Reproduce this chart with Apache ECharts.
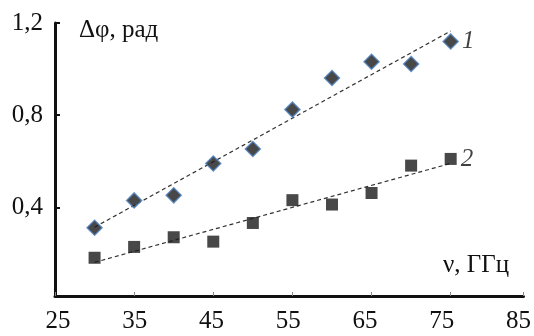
<!DOCTYPE html>
<html>
<head>
<meta charset="utf-8">
<script src="https://cdn.jsdelivr.net/npm/echarts@6/dist/echarts.min.js"></script>
<style>html,body{margin:0;padding:0;background:#fff}#c{width:534px;height:336px}</style>
</head>
<body>
<div id="c"></div>
<script>
const xValues = [30, 35, 40, 45, 50, 55, 60, 65, 70, 75];
const series1 = [0.311, 0.430, 0.452, 0.590, 0.653, 0.824, 0.961, 1.032, 1.022, 1.120];
const series2 = [0.181, 0.228, 0.270, 0.251, 0.332, 0.431, 0.412, 0.462, 0.581, 0.610];
const xTickLabels = [25, 35, 45, 55, 65, 75, 85];
const yTickLabels = [0.4, 0.8, 1.2];
const seriesNames = ['1', '2'];
const yTitle = 'Δφ, рад';
const xTitle = 'ν, ГГц';

function fit(xs, ys) {
  const n = xs.length;
  const mx = xs.reduce((a, b) => a + b, 0) / n;
  const my = ys.reduce((a, b) => a + b, 0) / n;
  let sxy = 0, sxx = 0;
  for (let i = 0; i < n; i++) { sxy += (xs[i] - mx) * (ys[i] - my); sxx += (xs[i] - mx) ** 2; }
  const k = sxy / sxx, b = my - k * mx;
  const x0 = Math.min(...xs), x1 = Math.max(...xs);
  return [[x0, k * x0 + b], [x1, k * x1 + b]];
}
function pts(ys, name) {
  return ys.map((y, i) => {
    const p = { value: [xValues[i], y] };
    if (i === ys.length - 1) p.label = { show: true, formatter: name };
    return p;
  });
}
const FONT = 'Liberation Serif';
const chart = echarts.init(document.getElementById('c'), null, { renderer: 'canvas' });
chart.setOption({
  animation: false,
  backgroundColor: '#fff',
  grid: { left: 55, right: 9, top: 23, bottom: 40 },
  xAxis: [{
    type: 'value', min: 25, max: 84.2, interval: 10,
    axisLine: { show: true, lineStyle: { color: '#111', width: 3 } },
    axisTick: { show: true, inside: true, length: 4, lineStyle: { color: '#888', width: 1 } },
    axisLabel: { show: false },
    splitLine: { show: false }
  }, {
    type: 'value', min: 24.61, max: 85.65, position: 'bottom',
    axisLine: { show: false }, axisTick: { show: false }, splitLine: { show: false },
    axisLabel: { show: true, customValues: xTickLabels, margin: 13, fontFamily: FONT, fontSize: 25, color: '#111' }
  }],
  yAxis: {
    type: 'value', min: 0.015, max: 1.2,
    axisLine: { show: true, lineStyle: { color: '#111', width: 3 } },
    axisTick: { show: true, inside: true, length: 5, customValues: yTickLabels, lineStyle: { color: '#111', width: 2 } },
    axisLabel: { show: true, customValues: yTickLabels, margin: 12, fontFamily: FONT, fontSize: 25, color: '#111',
      formatter: v => v.toFixed(1).replace('.', ',') },
    splitLine: { show: false }
  },
  graphic: [
    { type: 'text', left: 79, top: 18, style: { text: yTitle, font: '25px "Liberation Serif"', fill: '#111' } },
    { type: 'text', left: 443, top: 253, style: { text: xTitle, font: '25px "Liberation Serif"', fill: '#111' } }
  ],
  series: [
    { type: 'line', data: fit(xValues, series1), symbol: 'none', z: 1,
      lineStyle: { color: '#333', width: 1.2, type: [4, 3] } },
    { type: 'line', data: fit(xValues, series2), symbol: 'none', z: 1,
      lineStyle: { color: '#333', width: 1.2, type: [4, 3] } },
    { type: 'scatter', data: pts(series1, seriesNames[0]), symbol: 'diamond', symbolSize: 15, z: 3,
      itemStyle: { color: '#1a1a1a', borderColor: '#4a7ebb', borderWidth: 1.5 },
      label: { position: 'right', distance: 3, fontFamily: FONT, fontStyle: 'italic', fontSize: 25, color: '#111' } },
    { type: 'scatter', data: pts(series2, seriesNames[1]), symbol: 'rect', symbolSize: 12, z: 3,
      itemStyle: { color: '#1a1a1a' },
      label: { position: 'right', distance: 4, fontFamily: FONT, fontStyle: 'italic', fontSize: 25, color: '#111' } }
  ]
});
</script>
</body>
</html>
